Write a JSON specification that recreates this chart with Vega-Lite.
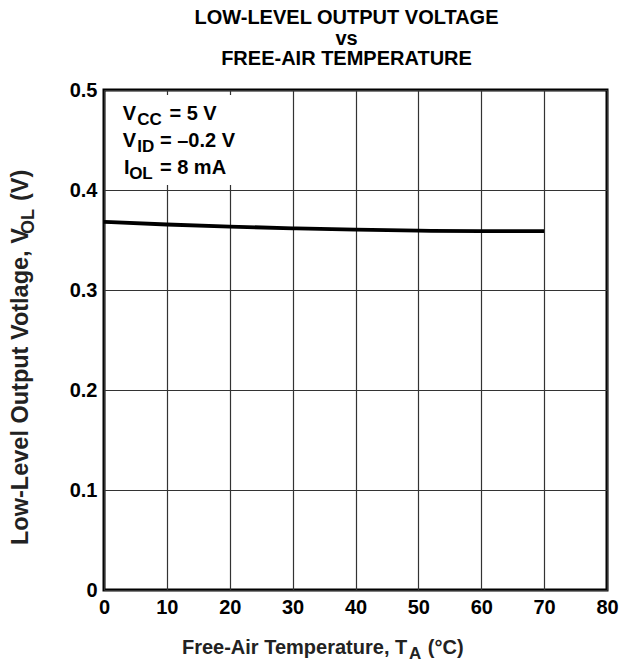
{
  "$schema": "https://vega.github.io/schema/vega-lite/v6.json",
  "width": 503,
  "height": 500,
  "autosize": "none",
  "padding": {"left": 104, "top": 90, "right": 29, "bottom": 73},
  "background": "white",
  "title": {
    "text": ["LOW-LEVEL OUTPUT VOLTAGE", "vs", "FREE-AIR TEMPERATURE"],
    "font": "Liberation Sans",
    "fontSize": 20,
    "fontWeight": "bold",
    "lineHeight": 20.5,
    "color": "black",
    "anchor": "middle",
    "dx": -9,
    "offset": 11
  },
  "config": {
    "view": {"stroke": "black", "strokeWidth": 3},
    "axis": {
      "labelFont": "Liberation Sans",
      "labelFontSize": 20,
      "labelFontWeight": "bold",
      "labelColor": "black",
      "grid": true,
      "gridColor": "#333333",
      "gridWidth": 1.2,
      "gridOpacity": 1,
      "domain": false,
      "ticks": false,
      "title": null
    }
  },
  "datasets": {
    "curve": [
      {"t": 0, "v": 0.3682},
      {"t": 10, "v": 0.3655},
      {"t": 20, "v": 0.3634},
      {"t": 30, "v": 0.3617},
      {"t": 40, "v": 0.3603},
      {"t": 50, "v": 0.3593},
      {"t": 60, "v": 0.3588},
      {"t": 70, "v": 0.3588}
    ],
    "mask": [{"x1": 0.4, "x2": 27, "y1": 0.405, "y2": 0.495}],
    "notesMain": [
      {"x": 3.0, "y": 0.470, "txt": "V"},
      {"x": 10.4, "y": 0.470, "txt": "= 5 V"},
      {"x": 3.0, "y": 0.443, "txt": "V"},
      {"x": 8.9, "y": 0.443, "txt": "= –0.2 V"},
      {"x": 3.2, "y": 0.416, "txt": "I"},
      {"x": 8.9, "y": 0.416, "txt": "= 8 mA"}
    ],
    "notesSub": [
      {"x": 5.3, "y": 0.465, "txt": "CC"},
      {"x": 5.3, "y": 0.438, "txt": "ID"},
      {"x": 4.0, "y": 0.411, "txt": "OL"}
    ],
    "xTitleMain": [
      {"x": 12.4, "y": -0.064, "txt": "Free-Air Temperature, T"},
      {"x": 51.5, "y": -0.064, "txt": "(°C)"}
    ],
    "xTitleSub": [
      {"x": 48.5, "y": -0.069, "txt": "A"}
    ],
    "yTitleMain": [
      {"x": -12.1, "y": 0.045, "txt": "Low-Level Output Votlage, V"},
      {"x": -12.1, "y": 0.389, "txt": "(V)"}
    ],
    "yTitleSub": [
      {"x": -11.2, "y": 0.356, "txt": "OL"}
    ]
  },
  "layer": [
    {
      "data": {"name": "curve"},
      "mark": {"type": "line", "color": "black", "strokeWidth": 3.8, "interpolate": "monotone"},
      "encoding": {
        "x": {
          "field": "t", "type": "quantitative",
          "scale": {"domain": [0, 80], "nice": false},
          "axis": {"values": [0, 10, 20, 30, 40, 50, 60, 70, 80], "labelPadding": 7, "labelFlush": false, "labelOverlap": false}
        },
        "y": {
          "field": "v", "type": "quantitative",
          "scale": {"domain": [0, 0.5], "nice": false, "zero": false},
          "axis": {"values": [0, 0.1, 0.2, 0.3, 0.4, 0.5], "format": ".1~f", "labelPadding": 7, "labelFlush": false, "labelOverlap": false}
        }
      }
    },
    {
      "data": {"name": "mask"},
      "mark": {"type": "rect", "color": "white"},
      "encoding": {
        "x": {"field": "x1", "type": "quantitative"},
        "x2": {"field": "x2"},
        "y": {"field": "y1", "type": "quantitative"},
        "y2": {"field": "y2"}
      }
    },
    {
      "data": {"name": "notesMain"},
      "mark": {"type": "text", "font": "Liberation Sans", "fontSize": 20, "fontWeight": "bold", "color": "black", "align": "left", "baseline": "alphabetic"},
      "encoding": {
        "x": {"field": "x", "type": "quantitative"},
        "y": {"field": "y", "type": "quantitative"},
        "text": {"field": "txt"}
      }
    },
    {
      "data": {"name": "notesSub"},
      "mark": {"type": "text", "font": "Liberation Sans", "fontSize": 17, "fontWeight": "bold", "color": "black", "align": "left", "baseline": "alphabetic"},
      "encoding": {
        "x": {"field": "x", "type": "quantitative"},
        "y": {"field": "y", "type": "quantitative"},
        "text": {"field": "txt"}
      }
    },
    {
      "data": {"name": "xTitleMain"},
      "mark": {"type": "text", "font": "Liberation Sans", "fontSize": 20, "fontWeight": "bold", "color": "#222222", "align": "left", "baseline": "alphabetic"},
      "encoding": {
        "x": {"field": "x", "type": "quantitative"},
        "y": {"field": "y", "type": "quantitative"},
        "text": {"field": "txt"}
      }
    },
    {
      "data": {"name": "xTitleSub"},
      "mark": {"type": "text", "font": "Liberation Sans", "fontSize": 17, "fontWeight": "bold", "color": "#222222", "align": "left", "baseline": "alphabetic"},
      "encoding": {
        "x": {"field": "x", "type": "quantitative"},
        "y": {"field": "y", "type": "quantitative"},
        "text": {"field": "txt"}
      }
    },
    {
      "data": {"name": "yTitleMain"},
      "mark": {"type": "text", "font": "Liberation Sans", "fontSize": 23.5, "fontWeight": "bold", "color": "#222222", "align": "left", "baseline": "alphabetic", "angle": 270},
      "encoding": {
        "x": {"field": "x", "type": "quantitative"},
        "y": {"field": "y", "type": "quantitative"},
        "text": {"field": "txt"}
      }
    },
    {
      "data": {"name": "yTitleSub"},
      "mark": {"type": "text", "font": "Liberation Sans", "fontSize": 18, "fontWeight": "bold", "color": "#222222", "align": "left", "baseline": "alphabetic", "angle": 270},
      "encoding": {
        "x": {"field": "x", "type": "quantitative"},
        "y": {"field": "y", "type": "quantitative"},
        "text": {"field": "txt"}
      }
    }
  ]
}
